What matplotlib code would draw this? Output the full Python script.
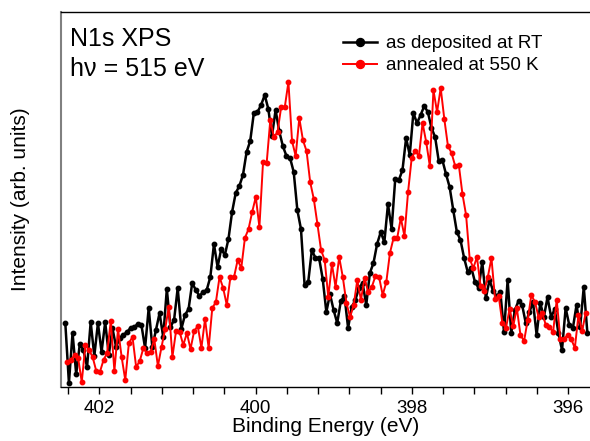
import numpy as np
import matplotlib
matplotlib.use("Agg")
import matplotlib.pyplot as plt
from matplotlib.ticker import MultipleLocator

plt.rcParams['font.family'] = ['Liberation Sans', 'DejaVu Sans']

# binding energy grid (eV), both scans use the same step
e_step = 0.0464
e_start_rt = 402.435
e_start_ann = 402.41

# as deposited at RT (arb. units)
rt = [64, 4, 54, 13, 43, 37, 20, 65, 31, 64, 35, 65, 32, 59, 40, 49, 52, 55, 59, 60,
      63, 62, 39, 79, 40, 57, 74, 50, 98, 60, 67, 99, 58, 72, 78, 104, 97, 91, 95, 97,
      110, 143, 120, 138, 132, 148, 175, 194, 201, 212, 235, 246, 274, 275, 282, 292, 278, 251, 277, 256,
      241, 231, 229, 215, 177, 158, 102, 105, 137, 129, 129, 108, 75, 93, 77, 64, 86, 91, 59, 80,
      87, 99, 104, 82, 114, 124, 143, 155, 145, 183, 158, 208, 207, 217, 249, 232, 274, 264, 272, 281,
      275, 259, 250, 226, 227, 213, 200, 177, 155, 147, 129, 115, 119, 105, 99, 125, 89, 107, 96, 91,
      95, 55, 107, 54, 77, 86, 82, 64, 75, 85, 52, 84, 70, 90, 70, 78, 54, 37, 79, 62,
      59, 82, 60, 100, 54]

# annealed at 550 K (arb. units)
ann = [25, 27, 32, 29, 5, 42, 37, 30, 16, 15, 27, 34, 66, 16, 58, 30, 7, 44, 50, 20,
       26, 39, 34, 35, 48, 21, 40, 58, 80, 30, 56, 55, 42, 54, 38, 56, 61, 39, 68, 39,
       79, 85, 110, 99, 82, 110, 110, 127, 119, 149, 158, 175, 190, 160, 225, 224, 267, 250, 255, 280,
       280, 305, 246, 231, 269, 247, 236, 205, 188, 163, 137, 127, 90, 123, 100, 130, 110, 84, 70, 82,
       107, 87, 109, 95, 100, 111, 110, 92, 105, 134, 149, 149, 169, 151, 195, 229, 236, 231, 264, 245,
       221, 297, 275, 299, 268, 241, 234, 221, 222, 193, 172, 128, 119, 130, 101, 96, 110, 129, 88, 91,
       64, 59, 78, 61, 79, 52, 46, 67, 92, 85, 70, 74, 62, 60, 55, 87, 48, 48, 52, 48,
       39, 72, 56, 74]

e_rt = e_start_rt - e_step * np.arange(len(rt))
e_ann = e_start_ann - e_step * np.arange(len(ann))

fig = plt.figure(figsize=(5.9, 4.41), dpi=100)
ax = fig.add_axes([0.1034, 0.1224, 0.8966, 0.8503])

ax.plot(e_rt, rt, '-o', color='black', lw=1.8, ms=3.2, label='as deposited at RT')
ax.plot(e_ann, ann, '-o', color='red', lw=1.4, ms=3.2, label='annealed at 550 K')

ax.set_xlim(402.49, 395.72)
ax.set_ylim(0, 375)

ax.xaxis.set_major_locator(MultipleLocator(2))
ax.xaxis.set_minor_locator(MultipleLocator(0.4))
ax.tick_params(axis='x', which='both', direction='out', length=5, width=1,
               labelsize=13.5, pad=4)
ax.set_yticks([])

ax.spines['right'].set_visible(False)
ax.spines['left'].set_color('#808080')
ax.spines['left'].set_linewidth(1.5)
ax.spines['top'].set_linewidth(1)
ax.spines['bottom'].set_linewidth(1)

ax.set_xlabel('Binding Energy (eV)', fontsize=15, labelpad=0)
ax.set_ylabel('Intensity (arb. units)', fontsize=15, labelpad=22)

ax.text(0.017, 0.96, 'N1s XPS', transform=ax.transAxes, fontsize=18, va='top', ha='left')
ax.text(0.017, 0.88, 'h\u03bd = 515 eV', transform=ax.transAxes, fontsize=18, va='top', ha='left')

ax.legend(loc='upper left', bbox_to_anchor=(0.519, 0.958), frameon=False, fontsize=13.5,
          handlelength=1.8, handletextpad=0.5, labelspacing=0.25, markerscale=1.8,
          borderaxespad=0)

fig.savefig('out.png', dpi=100)
